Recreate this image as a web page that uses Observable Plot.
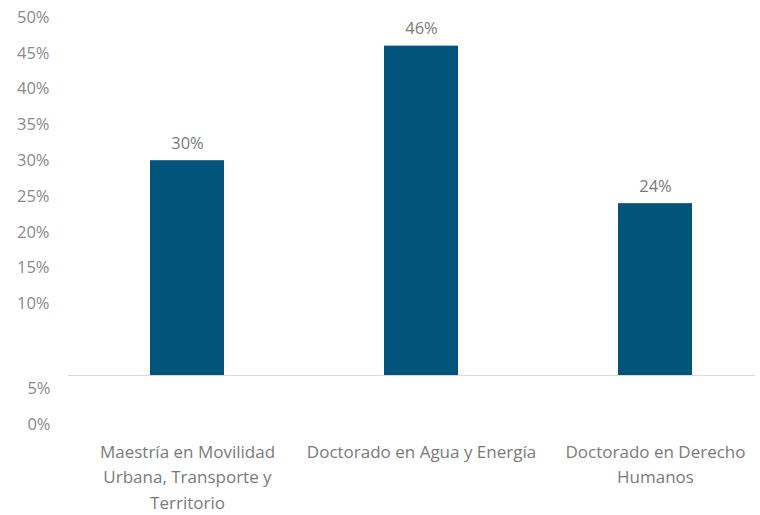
<!DOCTYPE html>
<html><head><meta charset="utf-8">
<script src="https://cdn.jsdelivr.net/npm/d3@7"></script>
<script src="https://cdn.jsdelivr.net/npm/@observablehq/plot@0.6"></script>
<style>body{margin:0;background:#fff;} #chart svg{display:block;}</style>
</head><body><div id="chart"></div>
<script>
const programs = [
  "Maestría en Movilidad Urbana, Transporte y Territorio",
  "Doctorado en Agua y Energía",
  "Doctorado en Derecho Humanos"
];
const programLabels = [
  "Maestría en Movilidad\nUrbana, Transporte y\nTerritorio",
  "Doctorado en Agua y Energía",
  "Doctorado en Derecho\nHumanos"
];
const shares = [30, 46, 24];
const upperTicks = [10, 15, 20, 25, 30, 35, 40, 45, 50];
const lowerTicks = [0, 5];

const data = programs.map((p, i) => ({program: p, share: shares[i]}));
const labelOf = new Map(programs.map((p, i) => [p, programLabels[i]]));

const font = "'Open Sans', sans-serif";
const chart = Plot.plot({
  width: 760,
  height: 515,
  marginTop: 17,
  marginBottom: 140,
  marginLeft: 81,
  marginRight: 0,
  style: {fontFamily: font, fontSize: "16px", background: "#fff"},
  x: {type: "band", domain: programs, paddingInner: 0.685, paddingOuter: 0.289, axis: null},
  y: {domain: [0, 50], axis: null},
  marks: [
    Plot.ruleY([0], {stroke: "#d9d9d9", strokeWidth: 1.2, insetLeft: -13, insetRight: 5}),
    Plot.barY(data, {x: "program", y: "share", fill: "#03547b"}),
    Plot.text(data, {x: "program", y: "share", text: d => d.share + "%", dy: -17, fill: "#7a7a7a", fontSize: 16.5}),
    Plot.axisY(upperTicks, {tickSize: 0, tickPadding: 32, tickFormat: d => d + "%", color: "#8a8a8a", fontSize: 16.5, label: null}),
    Plot.axisY(lowerTicks, {tickSize: 0, tickPadding: 31, dy: 49, tickFormat: d => d + "%", color: "#8a8a8a", fontSize: 16.5, label: null}),
    Plot.axisX(programs, {tickSize: 0, tickPadding: 64, tickFormat: d => labelOf.get(d), lineHeight: 1.5, color: "#7a7a7a", fontSize: 17, label: null})
  ]
});
document.getElementById("chart").append(chart);
</script>
</body></html>
